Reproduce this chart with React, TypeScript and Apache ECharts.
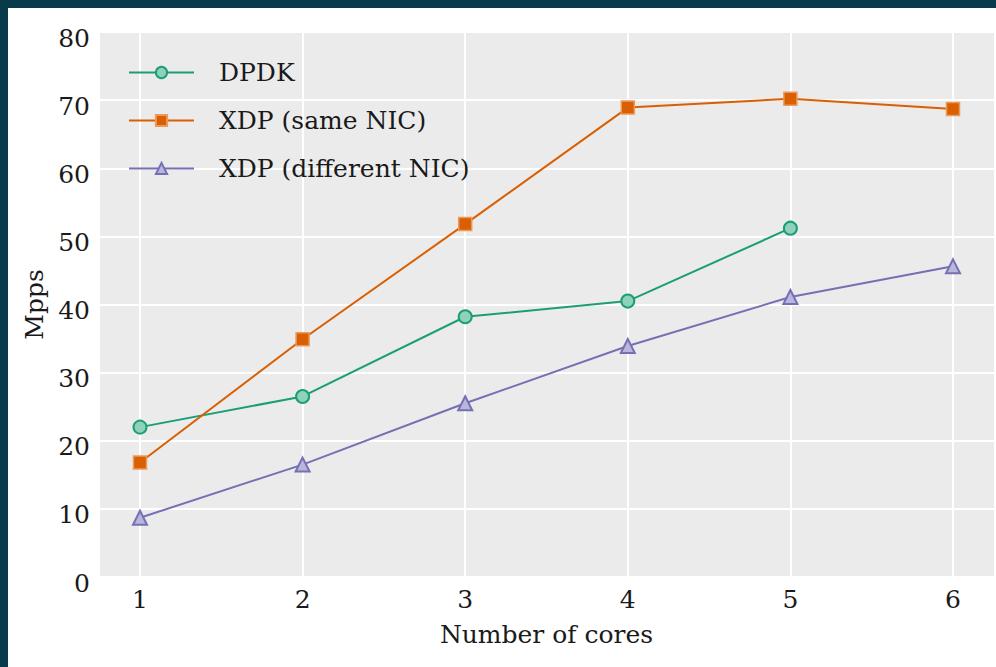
import React, { useEffect, useRef } from "react";
import * as echarts from "echarts";

const cores = [1, 2, 3, 4, 5, 6];
const dpdk = [22.0, 26.5, 38.2, 40.5, 51.2];
const xdpSame = [16.8, 34.9, 51.8, 68.9, 70.2, 68.7];
const xdpDiff = [8.7, 16.5, 25.5, 33.9, 41.1, 45.6];
const seriesNames = ["DPDK", "XDP (same NIC)", "XDP (different NIC)"];
const yTicks = { min: 0, max: 80, interval: 10 };

const FONT = "DejaVu Serif";
const TXT = "#1a1a1a";
const FS = 25;

export default function App() {
  const ref = useRef<HTMLDivElement>(null);
  useEffect(() => {
    document.body.style.margin = "0";
    const chart = echarts.init(ref.current!, null, { renderer: "svg" });
    const pair = (vals: number[]) => vals.map((v, i) => [cores[i], v]);
    chart.setOption({
      animation: false,
      backgroundColor: "#ffffff",
      textStyle: { fontFamily: FONT },
      graphic: [
        { type: "rect", shape: { x: 0, y: 0, width: 996, height: 8 }, style: { fill: "#073b4c" }, z: 100 },
        { type: "rect", shape: { x: 0, y: 0, width: 8, height: 667 }, style: { fill: "#073b4c" }, z: 100 },
      ],
      grid: [
        { left: 100, right: 2, top: 32, bottom: 90, show: true, backgroundColor: "#ebebeb", borderWidth: 0 },
        { left: 140, right: 43, top: 32, bottom: 90 },
      ],
      xAxis: [
        { gridIndex: 0, type: "value", min: 0.75, max: 6.25, show: false },
        {
          gridIndex: 1,
          type: "value",
          min: 1,
          max: 6,
          interval: 1,
          axisLine: { show: false },
          axisTick: { show: false },
          splitLine: { show: true, lineStyle: { color: "#ffffff", width: 2 } },
          axisLabel: { fontFamily: FONT, fontSize: FS, color: TXT, margin: 10 },
          name: "Number of cores",
          nameLocation: "middle",
          nameGap: 45,
          nameTextStyle: { fontFamily: FONT, fontSize: FS, color: TXT },
        },
      ],
      yAxis: [
        {
          gridIndex: 0,
          type: "value",
          min: yTicks.min,
          max: yTicks.max,
          interval: yTicks.interval,
          axisLine: { show: false },
          axisTick: { show: false },
          splitLine: { show: true, lineStyle: { color: "#ffffff", width: 2 } },
          axisLabel: {
            fontFamily: FONT,
            fontSize: FS,
            color: TXT,
            margin: 10,
            verticalAlign: "top",
            lineHeight: 12,
          },
          name: "Mpps",
          nameLocation: "middle",
          nameRotate: 90,
          nameGap: 48,
          nameTextStyle: { fontFamily: FONT, fontSize: FS, color: TXT },
        },
        { gridIndex: 1, type: "value", min: yTicks.min, max: yTicks.max, show: false },
      ],
      legend: {
        orient: "vertical",
        left: 128,
        top: 60,
        padding: 0,
        itemWidth: 65,
        itemHeight: 14,
        itemGap: 23,
        textStyle: { fontFamily: FONT, fontSize: FS, color: TXT, padding: [0, 0, 0, 20] },
        data: seriesNames,
      },
      series: [
        {
          name: seriesNames[0],
          type: "line",
          xAxisIndex: 1,
          yAxisIndex: 1,
          data: pair(dpdk),
          symbol: "circle",
          symbolSize: 13,
          lineStyle: { color: "#1b9e77", width: 2 },
          itemStyle: { color: "#8fd1bb", borderColor: "#1b9e77", borderWidth: 2 },
          z: 3,
        },
        {
          name: seriesNames[1],
          type: "line",
          xAxisIndex: 1,
          yAxisIndex: 1,
          data: pair(xdpSame),
          symbol: "rect",
          symbolSize: 13,
          lineStyle: { color: "#d95f02", width: 2 },
          itemStyle: { color: "#d95f02", borderColor: "#ec9a5a", borderWidth: 1.5 },
          z: 3,
        },
        {
          name: seriesNames[2],
          type: "line",
          xAxisIndex: 1,
          yAxisIndex: 1,
          data: pair(xdpDiff),
          symbol: "triangle",
          symbolSize: 14,
          lineStyle: { color: "#7570b3", width: 2 },
          itemStyle: { color: "#b9b6de", borderColor: "#7570b3", borderWidth: 2 },
          z: 3,
        },
      ],
    });
    return () => chart.dispose();
  }, []);
  return <div ref={ref} style={{ width: 996, height: 667 }} />;
}
